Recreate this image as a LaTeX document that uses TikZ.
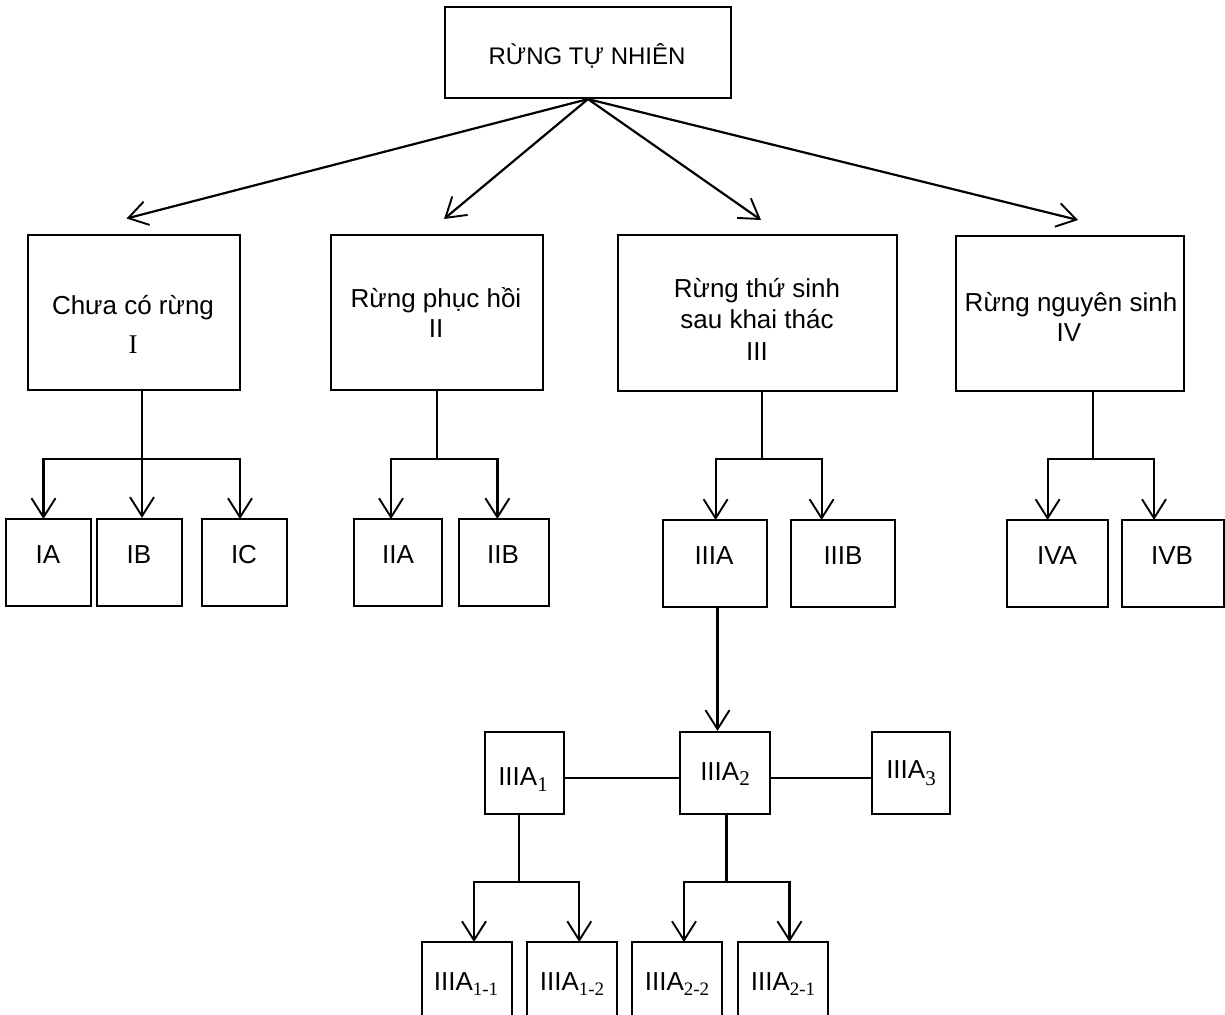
\documentclass[tikz,border=0pt]{standalone}
\usepackage{fontspec}
\setmainfont{Liberation Sans}
\newfontfamily\serifsub{Liberation Serif}
\usetikzlibrary{arrows.meta}
\newcommand{\mainsz}{\fontsize{26}{30}\selectfont}
\newcommand{\topsz}{\fontsize{24}{28}\selectfont}
\newcommand{\sbx}[2]{\raisebox{-#1pt}{\serifsub\fontsize{21}{22}\selectfont #2}}
\newcommand{\sbs}[2]{\raisebox{-#1pt}{\serifsub\fontsize{19}{20}\selectfont #2}}
\tikzset{
  box/.style={draw, line width=2.2pt, inner sep=0pt},
  lbl/.style={anchor=base, inner sep=0pt, font=\mainsz},
  con/.style={line width=2.2pt},
  arr/.style={line width=2.2pt, -{Straight Barb[length=19pt,width=24pt,line width=1.9pt]}},
}
\begin{document}
\begin{tikzpicture}[x=1pt,y=-1pt]
\clip (0,0) rectangle (1225,1014);
\fill[white] (0,0) rectangle (1225,1014);
% ---- boxes ----
\node[box, minimum width=286pt, minimum height=91pt] (top) at (588,52.5) {};
\node[box, minimum width=212pt, minimum height=155pt] (I) at (134,312.5) {};
\node[box, minimum width=212pt, minimum height=155pt] (II) at (437,312.5) {};
\node[box, minimum width=279pt, minimum height=156pt] (III) at (757.5,313) {};
\node[box, minimum width=228pt, minimum height=155pt] (IV) at (1070,313.5) {};
\node[box, minimum width=85pt, minimum height=87pt] (IA) at (48.5,562.5) {};
\node[box, minimum width=85pt, minimum height=87pt] (IB) at (139.5,562.5) {};
\node[box, minimum width=85pt, minimum height=87pt] (IC) at (244.5,562.5) {};
\node[box, minimum width=88pt, minimum height=87pt] (IIA) at (398,562.5) {};
\node[box, minimum width=90pt, minimum height=87pt] (IIB) at (504,562.5) {};
\node[box, minimum width=104pt, minimum height=87pt] (IIIA) at (715,563.5) {};
\node[box, minimum width=104pt, minimum height=87pt] (IIIB) at (843,563.5) {};
\node[box, minimum width=101pt, minimum height=87pt] (IVA) at (1057.5,563.5) {};
\node[box, minimum width=102pt, minimum height=87pt] (IVB) at (1173,563.5) {};
\node[box, minimum width=79pt, minimum height=82pt] (A1) at (524.5,773) {};
\node[box, minimum width=90pt, minimum height=82pt] (A2) at (725,773) {};
\node[box, minimum width=78pt, minimum height=82pt] (A3) at (911,773) {};
\node[box, minimum width=90pt, minimum height=80pt] (A11) at (467,982) {};
\node[box, minimum width=90pt, minimum height=80pt] (A12) at (572,982) {};
\node[box, minimum width=90pt, minimum height=80pt] (A22) at (677,982) {};
\node[box, minimum width=90pt, minimum height=80pt] (A21) at (783,982) {};
% ---- labels ----
\node[lbl, font=\topsz] (ttop) at (587,65) {RỪNG TỰ NHIÊN};
\node[lbl] (tI1) at (133,314) {Chưa có rừng};
\node[lbl, font=\serifsub\fontsize{27}{30}\selectfont] (tI2) at (133,353) {I};
\node[lbl] (tII1) at (436,307) {Rừng phục hồi};
\node[lbl] (tII2) at (436,337) {II};
\node[lbl] (tIII1) at (757,297) {Rừng thứ sinh};
\node[lbl] (tIII2) at (757,328.5) {sau khai thác};
\node[lbl] (tIII3) at (757,360) {III};
\node[lbl] (tIV1) at (1071,311) {Rừng nguyên sinh};
\node[lbl] (tIV2) at (1069,341) {IV};
\node[lbl] (tIA) at (48,563) {IA};
\node[lbl] (tIB) at (139,563) {IB};
\node[lbl] (tIC) at (244,563) {IC};
\node[lbl] (tIIA) at (398,563) {IIA};
\node[lbl] (tIIB) at (503,563) {IIB};
\node[lbl] (tIIIA) at (714,564) {IIIA};
\node[lbl] (tIIIB) at (843,564) {IIIB};
\node[lbl] (tIVA) at (1057,564) {IVA};
\node[lbl] (tIVB) at (1172,564) {IVB};
\node[lbl] (tA1) at (523,785) {IIIA\sbx{6}{1}};
\node[lbl] (tA2) at (725,780) {IIIA\sbx{5}{2}};
\node[lbl] (tA3) at (911,778) {IIIA\sbx{7}{3}};
\node[lbl] (tA11) at (466,990) {IIIA\sbs{5}{1-1}};
\node[lbl] (tA12) at (572,990) {IIIA\sbs{5}{1-2}};
\node[lbl] (tA22) at (677,990) {IIIA\sbs{5}{2-2}};
\node[lbl] (tA21) at (783,990) {IIIA\sbs{5}{2-1}};
% ---- top arrows ----
\coordinate (eI) at (126.5,218.5);
\coordinate (eII) at (444,219);
\coordinate (eIII) at (761,220);
\coordinate (eIV) at (1078,220);
\draw[arr] (top.south) -- (eI);
\draw[arr] (top.south) -- (eII);
\draw[arr] (top.south) -- (eIII);
\draw[arr] (top.south) -- (eIV);
% ---- group I ----
\coordinate (jI) at (142,459);
\draw[con] (I.south -| jI) -- (jI);
\draw[arr] (jI) -- (jI |- IB.north);
\draw[arr] (jI) -- (43.5,459) -- (43.5,519);
\draw[arr] (jI) -- (240,459) -- (240,519);
% ---- group II ----
\coordinate (jII) at (437.3,459);
\draw[con] (II.south -| jII) -- (jII);
\draw[arr] (jII) -- (391,459) -- (391,519);
\draw[arr] (jII) -- (497.4,459) -- (497.4,519);
% ---- group III ----
\coordinate (jIII) at (762,459);
\draw[con] (III.south -| jIII) -- (jIII);
\draw[arr] (jIII) -- (715.6,459) -- (715.6,520);
\draw[arr] (jIII) -- (821.6,459) -- (821.6,520);
% ---- group IV ----
\coordinate (jIV) at (1093,459);
\draw[con] (IV.south -| jIV) -- (jIV);
\draw[arr] (jIV) -- (1047.6,459) -- (1047.6,520);
\draw[arr] (jIV) -- (1154,459) -- (1154,520);
% ---- IIIA to IIIA2 ----
\coordinate (kA) at (717.5,607);
\draw[arr] (kA) -- (kA |- A2.north);
\draw[con] ([yshift=-5pt]A1.east) -- ([yshift=-5pt]A1.east -| A2.west);
\draw[con] ([yshift=-5pt]A2.east) -- ([yshift=-5pt]A2.east -| A3.west);
% ---- IIIA1 children ----
\coordinate (jA1) at (519,882);
\draw[con] (A1.south -| jA1) -- (jA1);
\draw[arr] (jA1) -- (474,882) -- (474,942);
\draw[arr] (jA1) -- (579.3,882) -- (579.3,942);
% ---- IIIA2 children ----
\coordinate (jA2) at (726.4,882);
\draw[con] (A2.south -| jA2) -- (jA2);
\draw[arr] (jA2) -- (684,882) -- (684,942);
\draw[arr] (jA2) -- (789.5,882) -- (789.5,942);
\end{tikzpicture}
\end{document}
